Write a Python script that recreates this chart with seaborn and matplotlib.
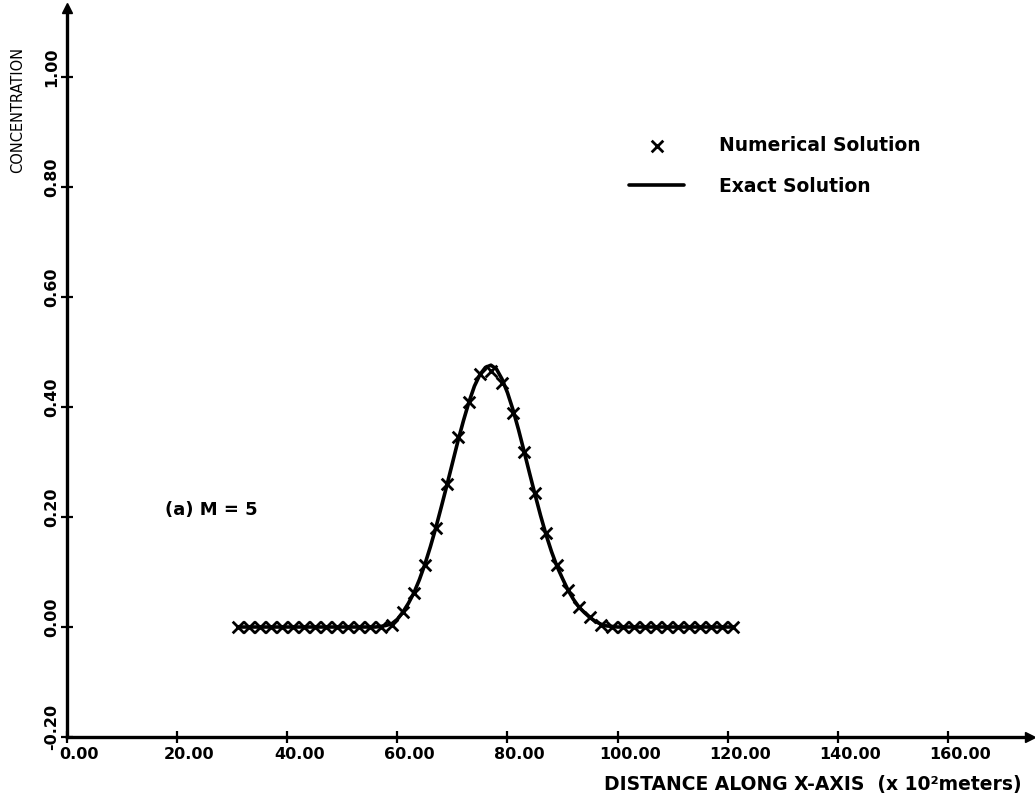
import matplotlib
matplotlib.use("Agg")
import matplotlib.pyplot as plt
import matplotlib.transforms as mtransforms
import seaborn as sns

# Numerical solution (x markers)
num_x = [31, 33, 35, 37, 39, 41, 43, 45, 47, 49, 51, 53, 55, 57,
         59, 61, 63, 65, 67, 69, 71, 73, 75, 77, 79, 81, 83, 85, 87, 89,
         91, 93, 95, 97, 99, 101, 103, 105, 107, 109, 111, 113, 115, 117,
         119, 121]
num_y = [0.0, 0.0, 0.0, 0.0, 0.0, 0.0, 0.0, 0.0, 0.0, 0.0, 0.0, 0.0, 0.0, 0.0,
         0.004, 0.027, 0.062, 0.113, 0.180, 0.260, 0.345, 0.410, 0.460, 0.466,
         0.444, 0.390, 0.318, 0.244, 0.171, 0.112, 0.067, 0.036, 0.018, 0.004,
         0.0, 0.0, 0.0, 0.0, 0.0, 0.0, 0.0, 0.0, 0.0, 0.0, 0.0, 0.0]

# Exact solution (solid line)
exact_x = [31, 56, 57, 58, 59, 60, 61, 62, 63, 64, 65, 66, 67, 68,
           69, 70, 71, 72, 73, 74, 75, 76, 77, 78, 79, 80, 81, 82, 83, 84, 85,
           86, 87, 88, 89, 90, 91, 92, 93, 94, 95, 96, 97, 98, 99, 100, 121]
exact_y = [0.0, 0.0, 0.001, 0.003, 0.006, 0.014, 0.027, 0.043, 0.062, 0.086,
           0.114, 0.146, 0.181, 0.219, 0.258, 0.298, 0.338, 0.375, 0.409,
           0.438, 0.459, 0.472, 0.476, 0.469, 0.451, 0.426, 0.395, 0.359,
           0.320, 0.280, 0.241, 0.203, 0.168, 0.137, 0.110, 0.088, 0.067,
           0.050, 0.036, 0.026, 0.017, 0.010, 0.005, 0.002, 0.001, 0.0, 0.0]

x_ticks = [0, 20, 40, 60, 80, 100, 120, 140, 160]
x_tick_labels = ["0.00", "20.00", "40.00", "60.00", "80.00", "100.00",
                 "120.00", "140.00", "160.00"]
y_ticks = [-0.2, 0.0, 0.2, 0.4, 0.6, 0.8, 1.0]
y_tick_labels = ["-0.20", "0.00", "0.20", "0.40", "0.60", "0.80", "1.00"]

sns.set_style("ticks")
plt.rcParams["font.family"] = ["DejaVu Sans"]
plt.rcParams["text.color"] = "black"
plt.rcParams["axes.labelcolor"] = "black"

fig = plt.figure(figsize=(10.35, 8.06), dpi=100)
ax = fig.add_axes([67 / 1035, 69 / 806, 963 / 1035, 729 / 806])

sns.lineplot(x=exact_x, y=exact_y, color="black", linewidth=2.6, ax=ax,
             sort=False, label="Exact Solution", zorder=2)
sns.scatterplot(x=num_x, y=num_y, marker="x", s=70, color="black",
                linewidth=2.0, ax=ax, label="Numerical Solution", zorder=3)

ax.set_xlim(0, 963 / 5.506)
ax.set_ylim(-0.2, -0.2 + 729 / 550)

sns.despine(ax=ax)
for side in ["left", "bottom"]:
    ax.spines[side].set_linewidth(2.4)
    ax.spines[side].set_color("black")

# arrow heads at the axis ends
ax.plot([1], [0], ">k", markersize=7, transform=ax.transAxes, clip_on=False)
ax.plot([0], [1], "^k", markersize=7, transform=ax.transAxes, clip_on=False)

ax.set_xticks(x_ticks)
ax.set_xticklabels(x_tick_labels, fontsize=11.5, fontweight="bold")
ax.set_yticks(y_ticks)
ax.set_yticklabels(y_tick_labels, fontsize=11.5, fontweight="bold",
                   rotation=90, va="center")
ax.tick_params(axis="both", direction="inout", length=9, width=1.6,
               color="black", labelcolor="black")
ax.tick_params(axis="x", pad=3)
ax.tick_params(axis="y", pad=1)

for lab in ax.get_xticklabels():
    lab.set_transform(lab.get_transform() +
                      mtransforms.ScaledTranslation(0.12, 0, fig.dpi_scale_trans))
for lab in ax.get_yticklabels():
    lab.set_transform(lab.get_transform() +
                      mtransforms.ScaledTranslation(0, 0.10, fig.dpi_scale_trans))

ax.set_xlabel("DISTANCE ALONG X-AXIS  (x 10²meters)", fontsize=13.5,
              fontweight="bold", color="black")
ax.xaxis.set_label_coords(0.774, -0.052)
ax.set_ylabel("CONCENTRATION", fontsize=10.5, color="black")
ax.yaxis.set_label_coords(-0.043, 0.86)

ax.text(17.8, 0.213, "(a) M = 5", fontsize=13, fontweight="bold",
        va="center", ha="left", color="black")

handles, labels = ax.get_legend_handles_labels()
order = [1, 0]
leg = ax.legend([handles[i] for i in order], [labels[i] for i in order],
                loc="upper left", bbox_to_anchor=(620 / 1035, 1 - 127 / 806),
                bbox_transform=fig.transFigure, frameon=False, fontsize=13.5,
                handlelength=2.9, handletextpad=1.9, labelspacing=1.15,
                borderpad=0)
for t in leg.get_texts():
    t.set_fontweight("bold")
    t.set_color("black")

fig.savefig("out.png", dpi=100, facecolor="white")
